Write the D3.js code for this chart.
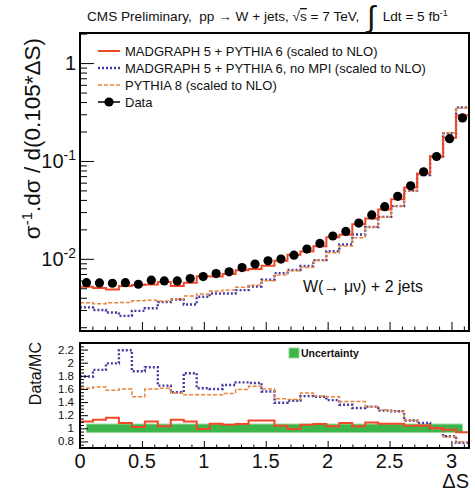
<!DOCTYPE html>
<html>
<head>
<meta charset="utf-8">
<script src="https://cdn.jsdelivr.net/npm/d3@7"></script>
<style>
  body { margin: 0; background: #fff; }
  svg { display: block; font-family: "Liberation Sans", Arial, sans-serif; }
  text { white-space: pre; }
</style>
</head>
<body>
<svg id="chart" width="475" height="496"></svg>
<script>
// 30 bins of width pi/30 in delta S.
const nBins = 30;
const xMax = Math.PI;

// Normalised distribution (upper panel).
const dataVals  = [0.00571, 0.00567, 0.00563, 0.00571, 0.00550, 0.00605, 0.00595, 0.00595, 0.00628, 0.00658,
                   0.00707, 0.00736, 0.00814, 0.00883, 0.00954, 0.00993, 0.0109, 0.01257, 0.01435, 0.0171,
                   0.01905, 0.0232, 0.0281, 0.0341, 0.0435, 0.0557, 0.0775, 0.111, 0.169, 0.275];
const mgVals    = [0.00517, 0.00502, 0.00485, 0.00529, 0.00539, 0.00548, 0.00578, 0.00527, 0.00568, 0.00665,
                   0.00661, 0.00698, 0.00764, 0.00788, 0.00852, 0.00955, 0.0110, 0.01191, 0.01347, 0.0166,
                   0.01764, 0.02252, 0.02578, 0.03187, 0.04065, 0.05356, 0.07452, 0.1104, 0.1724, 0.2926];
const noMpiVals = [0.00319, 0.00300, 0.00283, 0.00261, 0.00294, 0.00313, 0.00361, 0.00384, 0.00341, 0.00409,
                   0.00442, 0.00443, 0.00479, 0.00522, 0.00612, 0.00714, 0.00768, 0.00844, 0.00970, 0.01196,
                   0.01401, 0.01771, 0.02113, 0.02685, 0.03452, 0.04973, 0.07176, 0.111, 0.192, 0.3526];
const py8Vals   = [0.00355, 0.00348, 0.00356, 0.00357, 0.00372, 0.00378, 0.00370, 0.00386, 0.00416, 0.00436,
                   0.00468, 0.00481, 0.00512, 0.00538, 0.00596, 0.00685, 0.00757, 0.00816, 0.00963, 0.01155,
                   0.01351, 0.01645, 0.02113, 0.02664, 0.03452, 0.04973, 0.07381, 0.1121, 0.1943, 0.3481];

// Data/MC ratios (lower panel).
const ratioMg    = [1.105, 1.13, 1.16, 1.08, 1.02, 1.105, 1.03, 1.13, 1.105, 0.99,
                    1.07, 1.055, 1.065, 1.12, 1.12, 1.04, 0.99, 1.055, 1.065, 1.03,
                    1.08, 1.03, 1.09, 1.07, 1.07, 1.04, 1.04, 1.005, 0.98, 0.94];
const ratioNoMpi = [1.79, 1.89, 1.99, 2.19, 1.87, 1.93, 1.65, 1.55, 1.84, 1.61,
                    1.60, 1.66, 1.70, 1.69, 1.56, 1.39, 1.42, 1.49, 1.48, 1.43,
                    1.36, 1.31, 1.33, 1.27, 1.26, 1.12, 1.08, 1.00, 0.88, 0.78];
const ratioPy8   = [1.61, 1.63, 1.58, 1.60, 1.48, 1.60, 1.61, 1.54, 1.51, 1.51,
                    1.51, 1.53, 1.59, 1.64, 1.60, 1.45, 1.44, 1.54, 1.49, 1.48,
                    1.41, 1.41, 1.33, 1.28, 1.26, 1.12, 1.05, 0.99, 0.87, 0.79];
const uncLow  = [0.935, 0.935, 0.935, 0.935, 0.935, 0.935, 0.935, 0.935, 0.935, 0.935,
                 0.935, 0.935, 0.935, 0.935, 0.935, 0.935, 0.935, 0.935, 0.935, 0.935,
                 0.935, 0.935, 0.935, 0.935, 0.935, 0.935, 0.935, 0.935, 0.935, 0.935];
const uncHigh = [1.065, 1.065, 1.065, 1.065, 1.065, 1.065, 1.065, 1.065, 1.065, 1.065,
                 1.065, 1.065, 1.065, 1.065, 1.065, 1.065, 1.065, 1.065, 1.065, 1.065,
                 1.065, 1.065, 1.065, 1.065, 1.065, 1.065, 1.065, 1.065, 1.065, 1.065];

const xTicks = [0, 0.5, 1, 1.5, 2, 2.5, 3];
const xTickLabels = ['0', '0.5', '1', '1.5', '2', '2.5', '3'];
const logTicks = [0.01, 0.1, 1];
const logTickLabels = [['10', '-2'], ['10', '-1'], ['1', '']];
const ratioTicks = [0.8, 1, 1.2, 1.4, 1.6, 1.8, 2, 2.2];
const ratioTickLabels = ['0.8', '1', '1.2', '1.4', '1.6', '1.8', '2', '2.2'];
const legendLabels = ['MADGRAPH 5 + PYTHIA 6 (scaled to NLO)',
                      'MADGRAPH 5 + PYTHIA 6, no MPI (scaled to NLO)',
                      'PYTHIA 8 (scaled to NLO)', 'Data'];

const colors = {mg: '#f2482a', noMpi: '#46399f', py8: '#e8843c', unc: '#3cb54a', uncEdge: '#9ad89a'};

const svg = d3.select('#chart');
const edges = d3.range(nBins + 1).map(i => xMax * i / nBins);
const centers = d3.range(nBins).map(i => xMax * (i + 0.5) / nBins);

// Panels.
const up = {l: 80, r: 469, t: 33, b: 331};
const lo = {l: 80, r: 469, t: 343, b: 448};

const x = d3.scaleLinear().domain([0, xMax]).range([up.l, up.r]);
const y = d3.scaleLog().domain([0.00183, 2.03]).range([up.b, up.t]);
const yr = d3.scaleLinear().domain([0.7, 2.3]).range([lo.b, lo.t]);

const defs = svg.append('defs');
defs.append('clipPath').attr('id', 'clipUp').append('rect')
  .attr('x', up.l).attr('y', up.t).attr('width', up.r - up.l).attr('height', up.b - up.t);
defs.append('clipPath').attr('id', 'clipLo').append('rect')
  .attr('x', lo.l).attr('y', lo.t).attr('width', lo.r - lo.l).attr('height', lo.b - lo.t);

function stepPath(vals, ys) {
  const pts = vals.map((v, i) => [edges[i], v]);
  pts.push([edges[nBins], vals[nBins - 1]]);
  return d3.line().x(d => x(d[0])).y(d => ys(d[1])).curve(d3.curveStepAfter)(pts);
}

const styles = {
  noMpi: {color: colors.noMpi, width: 2.4, dash: '2,2'},
  py8: {color: colors.py8, width: 1.5, dash: '4,2'},
  mg: {color: colors.mg, width: 2, dash: null}
};

function drawHist(g, vals, ys, st) {
  g.append('path').attr('d', stepPath(vals, ys))
    .attr('fill', 'none').attr('stroke', st.color).attr('stroke-width', st.width)
    .attr('stroke-dasharray', st.dash);
}

// Upper panel curves.
const gUp = svg.append('g').attr('clip-path', 'url(#clipUp)');
drawHist(gUp, noMpiVals, y, styles.noMpi);
drawHist(gUp, py8Vals, y, styles.py8);
drawHist(gUp, mgVals, y, styles.mg);
gUp.selectAll('circle').data(dataVals).join('circle')
  .attr('cx', (d, i) => x(centers[i])).attr('cy', d => y(d)).attr('r', 4.6).attr('fill', '#000');

// Lower panel: uncertainty band then ratios.
const gLo = svg.append('g').attr('clip-path', 'url(#clipLo)');
gLo.append('path').datum(centers)
  .attr('d', d3.area().x(d => x(d)).y0((d, i) => yr(uncLow[i])).y1((d, i) => yr(uncHigh[i])))
  .attr('fill', colors.unc).attr('stroke', colors.uncEdge).attr('stroke-width', 1);
drawHist(gLo, ratioNoMpi, yr, styles.noMpi);
drawHist(gLo, ratioPy8, yr, styles.py8);
drawHist(gLo, ratioMg, yr, styles.mg);

// Axes ticks.
function ticksOnly(axis, g) {
  g.call(axis.tickFormat(''));
  g.select('.domain').remove();
  g.selectAll('line').attr('stroke', '#000').attr('stroke-width', 1);
}
const logMinor = [];
[0.001, 0.01, 0.1, 1].forEach(dec => d3.range(2, 10).forEach(k => {
  const v = dec * k;
  if (v > y.domain()[0] && v < y.domain()[1]) logMinor.push(v);
}));
ticksOnly(d3.axisRight(y).tickValues(logTicks).tickSize(14), svg.append('g').attr('transform', `translate(${up.l},0)`));
ticksOnly(d3.axisRight(y).tickValues(logMinor).tickSize(7), svg.append('g').attr('transform', `translate(${up.l},0)`));

const xMinor = d3.range(1, 32).map(i => i / 10).filter(v => v % 0.5 > 1e-6 && 0.5 - v % 0.5 > 1e-6);
[up.b, lo.b].forEach((yy, k) => {
  ticksOnly(d3.axisTop(x).tickValues(xTicks).tickSize(k ? 7 : 9), svg.append('g').attr('transform', `translate(0,${yy})`));
  ticksOnly(d3.axisTop(x).tickValues(xMinor).tickSize(k ? 3.5 : 4.5), svg.append('g').attr('transform', `translate(0,${yy})`));
});

const rMinor = d3.range(0.75, 2.3, 0.05).filter(v => Math.abs(v * 5 - Math.round(v * 5)) > 1e-6);
ticksOnly(d3.axisRight(yr).tickValues(ratioTicks).tickSize(8), svg.append('g').attr('transform', `translate(${lo.l},0)`));
ticksOnly(d3.axisRight(yr).tickValues(rMinor).tickSize(4), svg.append('g').attr('transform', `translate(${lo.l},0)`));

// Frames.
[up, lo].forEach(p => svg.append('rect')
  .attr('x', p.l).attr('y', p.t).attr('width', p.r - p.l).attr('height', p.b - p.t)
  .attr('fill', 'none').attr('stroke', '#000').attr('stroke-width', 2));

// Tick labels.
logTicks.forEach((v, i) => {
  const t = svg.append('text').attr('x', 76).attr('y', y(v) + 7).attr('text-anchor', 'end')
    .attr('font-size', 20).attr('fill', '#111');
  t.append('tspan').text(logTickLabels[i][0]);
  if (logTickLabels[i][1]) t.append('tspan').attr('font-size', 14).attr('dy', -8).text(logTickLabels[i][1]);
});
ratioTicks.forEach((v, i) => svg.append('text').attr('x', 74).attr('y', yr(v) + 4)
  .attr('text-anchor', 'end').attr('font-size', 11.5).attr('fill', '#111').text(ratioTickLabels[i]));
xTicks.forEach((v, i) => svg.append('text').attr('x', x(v)).attr('y', 468)
  .attr('text-anchor', 'middle').attr('font-size', 20).attr('fill', '#111').text(xTickLabels[i]));

// Axis titles.
svg.append('text').attr('x', up.r).attr('y', 488).attr('text-anchor', 'end')
  .attr('font-size', 20).attr('fill', '#111').text('ΔS');
const yTitle = svg.append('text').attr('transform', 'translate(40,38) rotate(-90)')
  .attr('text-anchor', 'end').attr('font-size', 22.5).attr('fill', '#111');
yTitle.append('tspan').text('σ');
yTitle.append('tspan').attr('font-size', 15).attr('dy', -8).text('-1');
yTitle.append('tspan').attr('dy', 8).text('.dσ / d(0.105*ΔS)');
svg.append('text').attr('transform', 'translate(41,342) rotate(-90)')
  .attr('text-anchor', 'end').attr('font-size', 16).attr('fill', '#111').text('Data/MC');

// Header.
const hdr = svg.append('text').attr('x', 87).attr('y', 21).attr('font-size', 13.6).attr('fill', '#111');
hdr.append('tspan').text('CMS Preliminary,  pp → W + jets, √');
hdr.append('tspan').style('text-decoration', 'overline').text('s');
hdr.append('tspan').text(' = 7 TeV,  ');
hdr.append('tspan').attr('font-size', 30).attr('dy', 6).text('∫');
hdr.append('tspan').attr('dy', -6).text('  Ldt = 5 fb');
hdr.append('tspan').attr('font-size', 9).attr('dy', -5).text('-1');

// Legend.
const legRows = [51, 68, 85, 102];
const legKeys = ['mg', 'noMpi', 'py8'];
legKeys.forEach((k, i) => {
  const st = styles[k];
  svg.append('line').attr('x1', 98).attr('x2', 120).attr('y1', legRows[i]).attr('y2', legRows[i])
    .attr('stroke', st.color).attr('stroke-width', st.width).attr('stroke-dasharray', st.dash);
});
svg.append('line').attr('x1', 98).attr('x2', 120).attr('y1', legRows[3]).attr('y2', legRows[3])
  .attr('stroke', '#000').attr('stroke-width', 1.5);
svg.append('circle').attr('cx', 109).attr('cy', legRows[3]).attr('r', 4.6).attr('fill', '#000');
legendLabels.forEach((t, i) => svg.append('text').attr('x', 125).attr('y', legRows[i] + 5)
  .attr('font-size', 13).attr('fill', '#111').text(t));

// Channel label.
svg.append('text').attr('x', 303).attr('y', 292).attr('font-size', 16).attr('fill', '#111')
  .text('W(→ μν) + 2 jets');

// Uncertainty legend.
svg.append('rect').attr('x', 289).attr('y', 348).attr('width', 10).attr('height', 10)
  .attr('fill', colors.unc).attr('stroke', colors.uncEdge).attr('stroke-width', 1);
svg.append('text').attr('x', 301).attr('y', 357).attr('font-size', 10.5).attr('font-weight', 'bold')
  .attr('fill', '#111').text('Uncertainty');
</script>
</body>
</html>
